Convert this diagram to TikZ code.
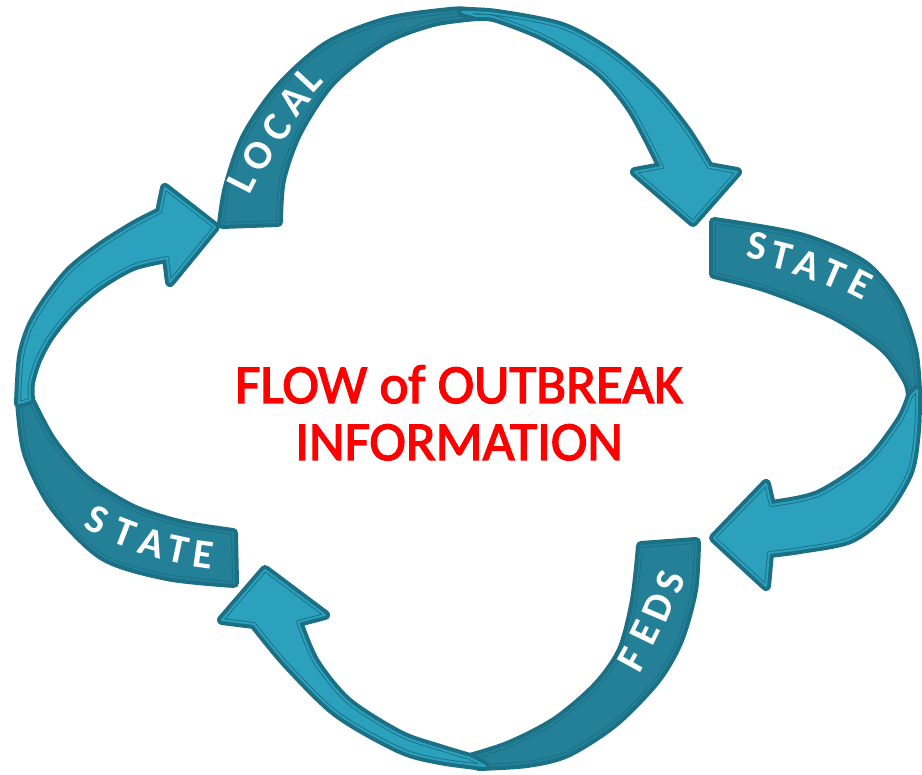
\documentclass[tikz,border=0pt]{standalone}
\usepackage{fontspec}
\usepackage{color}
\setmainfont{Carlito}
\newfontfamily\titlefont[FakeBold=2.5]{Carlito}
\definecolor{mycolor1}{RGB}{27,112,133}
\definecolor{mycolor2}{RGB}{35,128,151}
\definecolor{mycolor3}{RGB}{44,161,189}
\definecolor{mycolor4}{RGB}{255,0,0}

\begin{document}
\begin{tikzpicture}[x=1pt, y=-1pt,
  back/.style={preaction={draw=mycolor1, line width=10pt, line join=round},
    fill=mycolor2, draw=mycolor1, double=mycolor2, line width=0.9pt, double distance=2pt, line join=round},
  front/.style={back, fill=mycolor3, double=mycolor3},
  title/.style={anchor=base, text=mycolor4, font=\titlefont\fontsize{55}{60}\selectfont},
  letter/.style={text=white, inner sep=0pt, font=\bfseries\fontsize{41}{44}\selectfont}]
  \useasboundingbox (0,0) rectangle (922,775);

  % top: LOCAL
  \filldraw[back] plot[smooth] coordinates {(222,224) (228,187) (246,136) (280,87) (328,45) (388,21) (450,12) (468,12)}
    -- plot[smooth] coordinates {(477,16) (433,22) (383,41) (332,81) (298,132) (281,180) (278,222)} -- cycle;
  \filldraw[front] plot[smooth] coordinates {(462,12) (497,14) (562,27) (611,54) (654,91) (686,130) (709,167)}
    -- (737,172) -- (693,222) -- (635,172)
    -- plot[smooth] coordinates {(662,167) (632,110) (599,71) (547,38) (497,18) (477,16)} -- cycle;

  % right: STATE
  \filldraw[back] plot[smooth] coordinates {(714,222) (800,237) (863,264) (896,303) (913,350) (917,392)}
    -- plot[smooth] coordinates {(911,396) (907,380) (884,348) (834,315) (767,288) (714,274)} -- cycle;
  \filldraw[front] plot[smooth] coordinates {(917,390) (916,430) (909,472) (884,513) (850,539) (800,549) (769,553)}
    -- (766,586) -- (714,538) -- (766,484)
    -- plot[smooth] coordinates {(771,505) (818,495) (868,462) (900,421) (911,396)} -- cycle;

  % bottom: FEDS
  \filldraw[back] plot[smooth] coordinates {(696,542) (693,590) (679,640) (656,680) (614,723) (567,753) (527,763) (478,766)}
    -- plot[smooth] coordinates {(470,758) (510,745) (556,721) (597,686) (622,650) (635,600) (641,546)} -- cycle;
  \filldraw[front] plot[smooth] coordinates {(485,766) (440,760) (400,749) (337,713) (287,664) (254,624)}
    -- (222,620) -- (265,570) -- (325,615)
    -- plot[smooth] coordinates {(298,622) (315,662) (348,702) (400,735) (440,749) (470,758)} -- cycle;

  % left: STATE
  \filldraw[back] plot[smooth] coordinates {(234,583) (167,576) (103,556) (54,507) (27,453) (20,400)}
    -- plot[smooth] coordinates {(30,400) (52,441) (85,479) (133,509) (183,525) (233,533)} -- cycle;
  \filldraw[front] plot[smooth] coordinates {(19,403) (22,357) (31,327) (47,300) (70,271) (100,247) (133,226) (160,212)}
    -- (165,188) -- (215,227) -- (170,282)
    -- plot[smooth] coordinates {(167,258) (133,266) (100,285) (73,308) (50,336) (37,360) (30,383) (30,400)} -- cycle;

  % letters along the bands
  \foreach \ch/\x/\y/\a [count=\i] in {L/242/182/63, O/258/156/59, C/277/128/55, A/294/100/51, L/309/79/47}
    \node[letter, rotate=\a] (local\i) at (\x,\y) {\ch};
  \foreach \ch/\x/\y/\a [count=\i] in {S/757/246/-10, T/782/256/-14, A/808/265/-19, T/834/274/-23, E/860/284/-27}
    \node[letter, rotate=\a] (stateR\i) at (\x,\y) {\ch};
  \foreach \ch/\x/\y/\a [count=\i] in {F/632/660/61, E/645/633/64, D/658/607/67, S/670/582/70}
    \node[letter, rotate=\a] (feds\i) at (\x,\y) {\ch};
  \foreach \ch/\x/\y/\a [count=\i] in {S/97/520/-26, T/125/533/-21, A/152/543/-16, T/178/550/-12, E/203/555/-8}
    \node[letter, rotate=\a] (stateL\i) at (\x,\y) {\ch};

  \node[title] (flow) at (459,403) {FLOW of OUTBREAK};
  \node[title] (info) at (459,460) {INFORMATION};
\end{tikzpicture}
\end{document}
